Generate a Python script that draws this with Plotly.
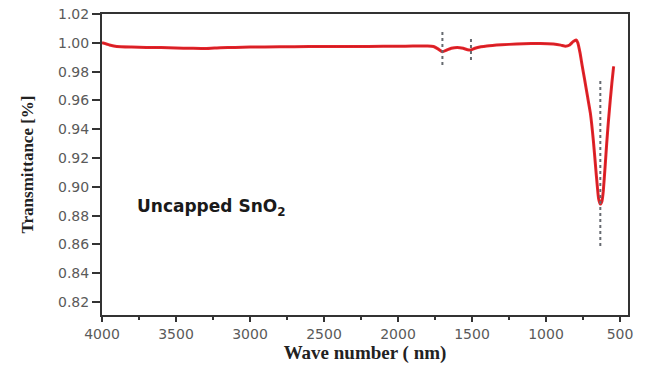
import plotly.graph_objects as go

# Spectrum data (wave number, transmittance)
wave = [4000, 3950, 3900, 3800, 3700, 3600, 3500, 3400, 3300, 3200, 3100, 3000, 2800,
        2600, 2400, 2200, 2000, 1900, 1800, 1760, 1730, 1700, 1670, 1640, 1600, 1560,
        1530, 1507, 1480, 1440, 1400, 1300, 1200, 1100, 1038, 950, 900, 869, 840, 815,
        797, 785, 770, 757, 740, 720, 700, 680, 660, 645, 633, 622, 613, 600, 590, 578,
        566, 555, 543]
trans = [1.000, 0.9985, 0.9974, 0.9970, 0.9968, 0.9967, 0.9964, 0.9962, 0.9960, 0.9966,
         0.9968, 0.9970, 0.9972, 0.9974, 0.9974, 0.9975, 0.9976, 0.9977, 0.9978, 0.9974,
         0.9958, 0.9938, 0.9950, 0.9962, 0.9968, 0.9962, 0.9952, 0.9950, 0.9962, 0.9972,
         0.9978, 0.9986, 0.9992, 0.9995, 0.9996, 0.9992, 0.9984, 0.9976, 0.9985, 1.0010,
         1.0019, 1.0000, 0.9930, 0.9850, 0.9750, 0.9630, 0.9510, 0.9320, 0.9080, 0.8920,
         0.8880, 0.8900, 0.8970, 0.9150, 0.9300, 0.9460, 0.9600, 0.9720, 0.9836]

# Dotted marker lines
mark_x = [1700, 1507, 633]
mark_top = [1.0075, 1.0026, 0.9735]
mark_bot = [0.9835, 0.9875, 0.858]

x_ticks = [4000, 3500, 3000, 2500, 2000, 1500, 1000, 500]
y_ticks = [0.82, 0.84, 0.86, 0.88, 0.90, 0.92, 0.94, 0.96, 0.98, 1.00, 1.02]

fig = go.Figure()
fig.add_trace(go.Scatter(x=wave, y=trans, mode="lines",
                         line=dict(color="#e8262c", width=3, shape="spline", smoothing=0.4),
                         showlegend=False, hoverinfo="skip"))
fig.add_trace(go.Scatter(x=wave, y=trans, mode="lines",
                         line=dict(color="#b0141a", width=1, shape="spline", smoothing=0.4),
                         opacity=0.5, showlegend=False, hoverinfo="skip"))
for mx, t, b in zip(mark_x, mark_top, mark_bot):
    fig.add_trace(go.Scatter(x=[mx, mx], y=[t, b], mode="lines",
                             line=dict(color="#666a70", width=2, dash="dot"),
                             showlegend=False, hoverinfo="skip"))

fig.add_annotation(x=3780, y=0.8855, xref="x", yref="y", xanchor="left", yanchor="middle",
                   text="<b>Uncapped SnO<sub>2</sub></b>", showarrow=False,
                   font=dict(family="DejaVu Sans", size=17, color="#1a1a1a"))

axis_line = dict(showline=True, linecolor="#333333", linewidth=2, mirror=True,
                 showgrid=False, zeroline=False, automargin=False,
                 ticklabeloverflow="allow")

fig.update_layout(
    width=646, height=367,
    margin=dict(l=102, r=18, t=14, b=52),
    paper_bgcolor="white", plot_bgcolor="white",
    xaxis=dict(range=[4000, 446], tickvals=x_ticks, ticks="outside", ticklen=5,
               tickwidth=2, tickcolor="#333333",
               minor=dict(dtick=250, ticks="outside", ticklen=3, tickwidth=2, tickcolor="#333333"),
               tickfont=dict(family="DejaVu Sans", size=14, color="#5a5a5a"),
               title=dict(text="<b>Wave number ( nm)</b>", standoff=0,
                          font=dict(family="Liberation Serif, Times New Roman", size=19, color="#222222")),
               **axis_line),
    yaxis=dict(range=[0.811, 1.02], tickvals=y_ticks, tickformat=".2f", ticks="outside",
               ticklen=8, tickwidth=2, tickcolor="#333333",
               tickfont=dict(family="DejaVu Sans", size=14, color="#5a5a5a"),
               title=dict(text="<b>Transmittance [%]</b>", standoff=20,
                          font=dict(family="Liberation Serif, Times New Roman", size=17, color="#222222")),
               **axis_line),
)

fig.write_html("out.html",
               config={"displayModeBar": False},
               post_script="document.body.style.margin='0';document.body.style.overflow='hidden';")
